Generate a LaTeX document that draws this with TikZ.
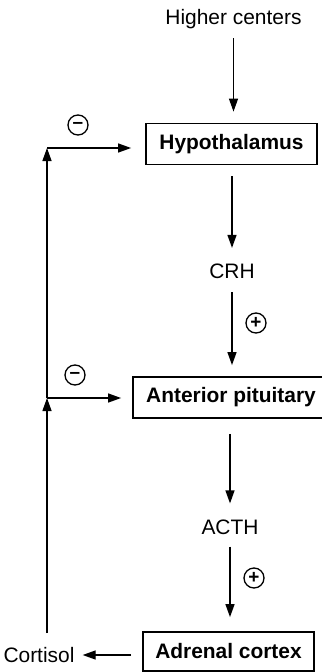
\documentclass[tikz,border=0pt]{standalone}
\usepackage{fontspec}
\setmainfont{Liberation Sans}
\usetikzlibrary{arrows.meta}

\tikzset{
  organ/.style={draw, line width=1.8bp, inner sep=0pt, minimum height=41bp,
    font=\fontsize{21}{24}\selectfont\bfseries},
  hormone/.style={inner sep=0pt, font=\fontsize{21}{24}\selectfont},
  sign/.style={circle, draw, line width=1.3bp, inner sep=0pt, minimum size=20bp,
    font=\fontsize{19}{19}\selectfont\bfseries},
  arr/.style={line width=1.3bp, -{Triangle[length=13bp,width=9bp]}},
}

\begin{document}
\begin{tikzpicture}[x=1bp, y=-1bp]
\useasboundingbox (0,0) rectangle (321,672);

  \node[hormone] (higher) at (233.5,19.5) {Higher centers};
  \node[organ, minimum width=171bp] (hypo) at (231.5,144) {Hypothalamus};
  \node[hormone] (crh)  at (232,271.5) {CRH};
  \node[organ, minimum width=196bp] (ant) at (231,397.5) {Anterior pituitary};
  \node[hormone] (acth) at (230,527) {ACTH};
  \node[organ, minimum width=171bp, minimum height=39bp] (adr) at (228.5,651.5) {Adrenal cortex};
  \node[hormone] (cort) at (39,655) {Cortisol};

  % signs
  \node[sign] (plus1)  at (256,323) {+};
  \node[sign] (plus2)  at (254,578) {+};
  \node[sign] (minus1) at (78,125)  {–};
  \node[sign] (minus2) at (75,375)  {–};

  % feedback loop
  \coordinate (fbbot) at (47,633);
  \coordinate (fbmid) at (47,398);
  \coordinate (fbtop) at (47,148);

  % main axis
  \draw[arr, shorten <=9bp, shorten >=11bp] (higher.south) -- (higher.south |- hypo.north);
  \draw[arr, shorten <=11bp, shorten >=16bp] (crh |- hypo.south) -- (crh.north);
  \draw[arr, shorten <=13bp, shorten >=11bp] (crh.south) -- (crh |- ant.north);
  \draw[arr, shorten <=15bp, shorten >=16bp] (acth |- ant.south) -- (acth.north);
  \draw[arr, shorten <=12bp, shorten >=14bp] (acth.south) -- (acth |- adr.north);

  % cortisol
  \draw[arr, shorten <=11bp, shorten >=8bp] (adr.west |- cort) -- (cort.east);
  \draw[arr] (fbbot) -- (fbmid);
  \draw[arr] (fbmid) -- (fbtop);
  \draw[arr, shorten >=11bp] (fbmid) -- (fbmid -| ant.west);
  \draw[arr, shorten >=14bp] (fbtop) -- (fbtop -| hypo.west);
\end{tikzpicture}
\end{document}
